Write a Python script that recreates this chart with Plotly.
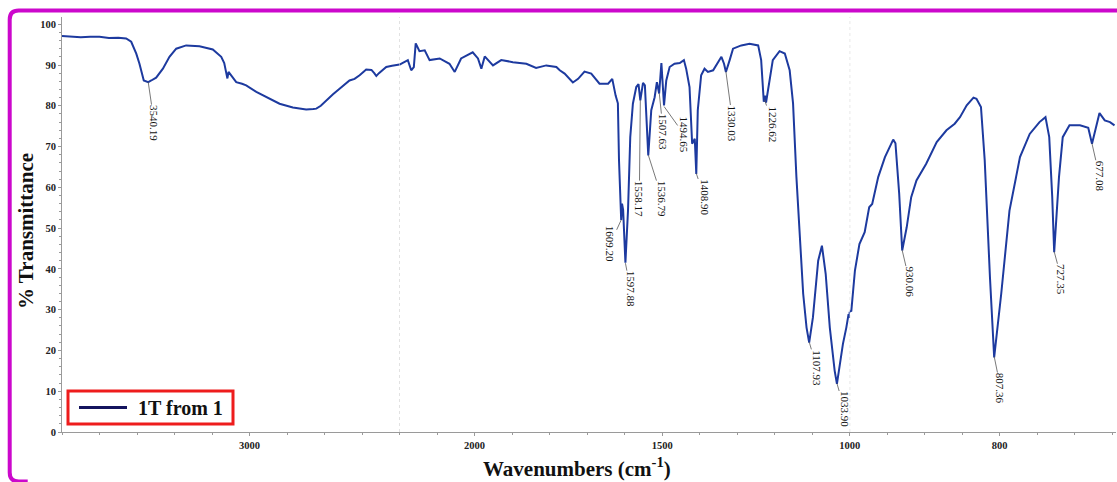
import numpy as np
import plotly.graph_objects as go

# ---------------- data ----------------
wavenumber = [
    4000, 3950, 3900, 3850, 3800, 3750, 3700, 3658, 3631, 3604, 3587, 3564, 3549, 3540, 3524,
    3498, 3462, 3427, 3391, 3338, 3267, 3196, 3151, 3135, 3124, 3118, 3112, 3100, 3071, 3040,
    3018, 2964, 2911, 2840, 2769, 2698, 2660, 2644, 2620, 2591, 2555, 2520, 2467, 2440, 2413,
    2378, 2350, 2335, 2324, 2310, 2290, 2271, 2240, 2200,
    2178, 2169, 2162, 2157, 2150, 2147, 2133, 2120, 2093, 2067, 2053, 2036, 2005, 1991, 1982,
    1973, 1951, 1929, 1898, 1862, 1836, 1809, 1782, 1773, 1760, 1738, 1724, 1707, 1689, 1667,
    1644, 1633, 1624, 1618, 1615, 1611, 1609.2, 1607, 1604, 1597.9, 1591, 1585, 1578, 1569,
    1563, 1558.2, 1551, 1546, 1537, 1529, 1520, 1514, 1508, 1502, 1495, 1489, 1480, 1467,
    1453, 1442, 1436, 1427, 1420, 1413, 1409, 1405, 1396, 1387, 1378, 1364, 1351, 1342, 1335,
    1330, 1320, 1311, 1289, 1267, 1244, 1236, 1229, 1226, 1223, 1213, 1205, 1187, 1173, 1160,
    1151, 1142, 1133, 1124, 1115, 1108, 1098, 1084, 1074, 1064, 1053, 1040, 1034, 1018, 1009,
    1003, 1001, 1000,
    997.8, 993, 987, 980, 974, 970, 962, 953, 942, 939, 934, 930, 924, 918, 911, 898, 884,
    871, 860, 853, 844, 835, 831, 825, 820, 813, 807.4, 798, 787, 773, 760, 747, 739, 734,
    730, 727.4, 721, 716, 707, 693, 682, 677, 671, 667, 660, 653, 647,
]
transmittance = [
    97.1, 96.9, 96.8, 96.9, 96.9, 96.6, 96.7, 96.5, 95.7, 92.8, 90.3, 86.2, 85.9, 85.8, 86.2,
    86.9, 89.1, 92.0, 94.0, 94.8, 94.6, 93.8, 92.0, 90.5, 88.0, 86.7, 88.3, 87.5, 85.8, 85.4,
    85.0, 83.4, 82.1, 80.5, 79.6, 79.1, 79.2, 79.3, 80.0, 81.3, 82.8, 84.2, 86.2, 86.6, 87.5,
    88.9, 88.8, 88.0, 87.3, 88.0, 88.8, 89.5, 89.8, 90.1,
    91.2, 88.7, 89.5, 95.3, 93.8, 93.4, 93.6, 91.2, 91.6, 90.3, 88.3, 91.6, 93.1, 91.6, 89.1,
    92.1, 89.9, 91.2, 90.7, 90.3, 89.3, 89.9, 89.5, 88.7, 87.9, 85.7, 86.6, 88.4, 87.9, 85.4,
    85.4, 86.6, 82.5, 80.6, 66.6, 54.3, 52.0, 56.0, 54.5, 41.5, 54.3, 72.3, 80.5, 84.6,
    85.3, 81.3, 85.6, 85.0, 67.8, 78.9, 82.1, 85.8, 83.0, 90.5, 80.1, 86.2, 89.5, 90.3,
    90.5, 91.2, 89.1, 84.6, 70.7, 71.9, 63.3, 78.9, 87.5, 89.1, 88.3, 88.7, 90.7, 92.0, 90.3,
    88.3, 91.2, 94.0, 94.8, 95.2, 94.8, 91.2, 81.0, 82.5, 80.8, 87.0, 91.2, 93.4, 92.8, 88.7,
    80.6, 62.5, 47.7, 33.9, 25.6, 21.9, 28.1, 42.0, 45.7, 38.8, 25.6, 15.0, 11.8, 21.6, 25.6,
    28.9, 28.0, 29.5,
    29.7, 39.6, 46.1, 49.0, 55.1, 55.9, 62.5, 67.4, 71.7, 70.8, 58.4, 44.5, 50.2, 57.6, 61.7,
    65.8, 71.1, 74.0, 75.6, 77.2, 80.1, 82.0, 81.7, 79.7, 66.6, 37.9, 18.3, 33.9, 54.3, 67.4,
    73.1, 76.0, 77.2, 72.3, 57.6, 44.1, 62.5, 72.3, 75.2, 75.2, 74.6, 70.7, 75.6, 78.2, 76.4,
    76.0, 75.2,
]

peak_labels = ["3540.19", "1609.20", "1597.88", "1558.17", "1536.79", "1507.63", "1494.65",
               "1408.90", "1330.03", "1226.62", "1107.93", "1033.90", "930.06", "807.36",
               "727.35", "677.08"]
peak_wn = [3540.19, 1609.20, 1597.88, 1558.17, 1536.79, 1507.63, 1494.65, 1408.90, 1330.03,
           1226.62, 1107.93, 1033.90, 930.06, 807.36, 727.35, 677.08]
peak_t = [85.8, 52.0, 41.4, 81.4, 67.9, 83.1, 79.8, 63.4, 88.4, 81.4, 22.1, 11.9, 44.6,
          18.5, 44.2, 70.8]
# label text offsets (pixels) from the peak point
label_dx = [6, -11, 5, -1, 14, 4, 20, 8, 7, 8, 7.5, 7.5, 7.5, 6.5, 7.5, 7.5]
label_dy = [41, 24, 26, 99, 44, 39, 28, 24, 52, 24, 26, 26, 32, 32, 28, 33]

x_major_ticks = [[3000], [2000, 1500], [1000, 800]]
y_ticks = list(range(0, 101, 10))
legend_name = "1T from 1"

# axis segments (wavenumber ranges, each with its own linear scale)
segments = [(4000, 2200), (2200, 1000), (1000, 645)]
seg_zoom = [1, 2, 4]
seg_minor = [200, 100, 50]

# ---------------- layout geometry ----------------
W, H = 1117, 482
ML, MR, MT, MB = 62, 1, 17, 50
PW, PH = W - ML - MR, H - MT - MB

def px_to_paper_x(px):
    return (px - ML) / PW

def px_to_paper_y(py):
    return (H - MB - py) / PH

spans = [(a - b) * z for (a, b), z in zip(segments, seg_zoom)]
total = sum(spans)
domains = []
acc = 0
for s in spans:
    domains.append([acc / total, (acc + s) / total])
    acc += s

SERIF = "Liberation Serif"
LINE_COLOR = "#1d3a9f"
LEGEND_LINE = "#14145e"
AXIS_COLOR = "#9a9a9a"

wn = np.array(wavenumber)
tr = np.array(transmittance)

fig = go.Figure()
axis_names = ["x", "x2", "x3"]
for i, ((hi, lo), ax) in enumerate(zip(segments, axis_names)):
    m = (wn <= hi) & (wn >= lo)
    fig.add_trace(go.Scatter(x=wn[m], y=tr[m], mode="lines", xaxis=ax, yaxis="y",
                             name=legend_name, line=dict(color=LINE_COLOR, width=2),
                             showlegend=False, hoverinfo="x+y"))

tickfont = dict(family=SERIF, size=10.5, color="#222", weight="bold")
layout_axes = {}
for i, key in enumerate(["xaxis", "xaxis2", "xaxis3"]):
    hi, lo = segments[i]
    layout_axes[key] = dict(
        domain=domains[i], range=[hi, lo], anchor="y",
        tickmode="array", tickvals=x_major_ticks[i],
        ticks="outside", ticklen=3, tickcolor=AXIS_COLOR, tickwidth=1,
        minor=dict(dtick=seg_minor[i], tick0=0, ticks="outside", ticklen=2,
                   tickcolor=AXIS_COLOR),
        showline=True, linecolor=AXIS_COLOR, linewidth=1,
        showgrid=False, zeroline=False, tickfont=tickfont, fixedrange=True,
    )

fig.update_layout(
    width=W, height=H,
    margin=dict(l=ML, r=MR, t=MT, b=MB),
    paper_bgcolor="white", plot_bgcolor="white",
    yaxis=dict(range=[0, 101.77], tickmode="array", tickvals=y_ticks,
               ticks="outside", ticklen=3, tickcolor=AXIS_COLOR,
               minor=dict(dtick=2, ticks="outside", ticklen=2, tickcolor=AXIS_COLOR),
               showline=True, linecolor=AXIS_COLOR, linewidth=1,
               showgrid=False, zeroline=False, tickfont=tickfont, fixedrange=True),
    showlegend=False,
    **layout_axes,
)

shapes = []
# dotted segment separators
for ax, val in [("x", segments[0][1]), ("x3", segments[2][0])]:
    shapes.append(dict(type="line", xref=ax, yref="paper", x0=val, x1=val, y0=0, y1=1,
                       line=dict(color="#c8c8c8", width=1, dash="dot"), layer="below"))

# magenta rounded frame (only its top and left sides fall inside the picture)
fx0, fy0, fx1, fy1, r = 9.7, 10.5, 1117, 481.5, 9
def P(px, py):
    return f"{px_to_paper_x(px):.5f},{px_to_paper_y(py):.5f}"
path = (f"M {P(fx1, fy0)} L {P(fx0 + r, fy0)} Q {P(fx0, fy0)} {P(fx0, fy0 + r)} "
        f"L {P(fx0, fy1 - r)} Q {P(fx0, fy1)} {P(fx0 + r, fy1)} L {P(fx0 + 2 * r, fy1)}")
shapes.append(dict(type="path", xref="paper", yref="paper", path=path,
                   line=dict(color="#cc08cc", width=4)))

# legend box (drawn) and its line sample
shapes.append(dict(type="rect", xref="paper", yref="paper",
                   x0=px_to_paper_x(68), x1=px_to_paper_x(233),
                   y0=px_to_paper_y(424), y1=px_to_paper_y(391),
                   line=dict(color="#ee1c1c", width=3), fillcolor="white"))
shapes.append(dict(type="line", xref="paper", yref="paper",
                   x0=px_to_paper_x(79), x1=px_to_paper_x(127),
                   y0=px_to_paper_y(407.5), y1=px_to_paper_y(407.5),
                   line=dict(color=LEGEND_LINE, width=3)))
fig.update_layout(shapes=shapes)

annotations = []
for txt, w, t, dx, dy in zip(peak_labels, peak_wn, peak_t, label_dx, label_dy):
    ax = "x" if w > segments[0][1] else ("x2" if w > segments[1][1] else "x3")
    annotations.append(dict(x=w, y=t, xref=ax, yref="y", text=txt, textangle=90,
                            showarrow=True, arrowhead=0, arrowwidth=0.8, arrowcolor="#555",
                            ax=dx, ay=dy, standoff=0, borderpad=0,
                            font=dict(family=SERIF, size=11, color="#111")))

annotations.append(dict(x=px_to_paper_x(136), y=px_to_paper_y(407.5), xref="paper",
                        yref="paper", text=legend_name, showarrow=False,
                        xanchor="left", yanchor="middle",
                        font=dict(family=SERIF, size=20, color="#111", weight="bold")))
annotations.append(dict(x=px_to_paper_x(26), y=px_to_paper_y(231), xref="paper", yref="paper",
                        text="% Transmittance", textangle=-90, showarrow=False,
                        xanchor="center", yanchor="middle",
                        font=dict(family=SERIF, size=21, color="#111", weight="bold")))
annotations.append(dict(x=px_to_paper_x(577), y=px_to_paper_y(467), xref="paper", yref="paper",
                        text="Wavenumbers (cm<sup>-1</sup>)", showarrow=False,
                        xanchor="center", yanchor="middle",
                        font=dict(family=SERIF, size=21, color="#111", weight="bold")))
fig.update_layout(annotations=annotations)

fig.write_html("out.html", config={"displayModeBar": False},
               post_script="document.body.style.margin='0px';document.body.style.overflow='hidden';")
